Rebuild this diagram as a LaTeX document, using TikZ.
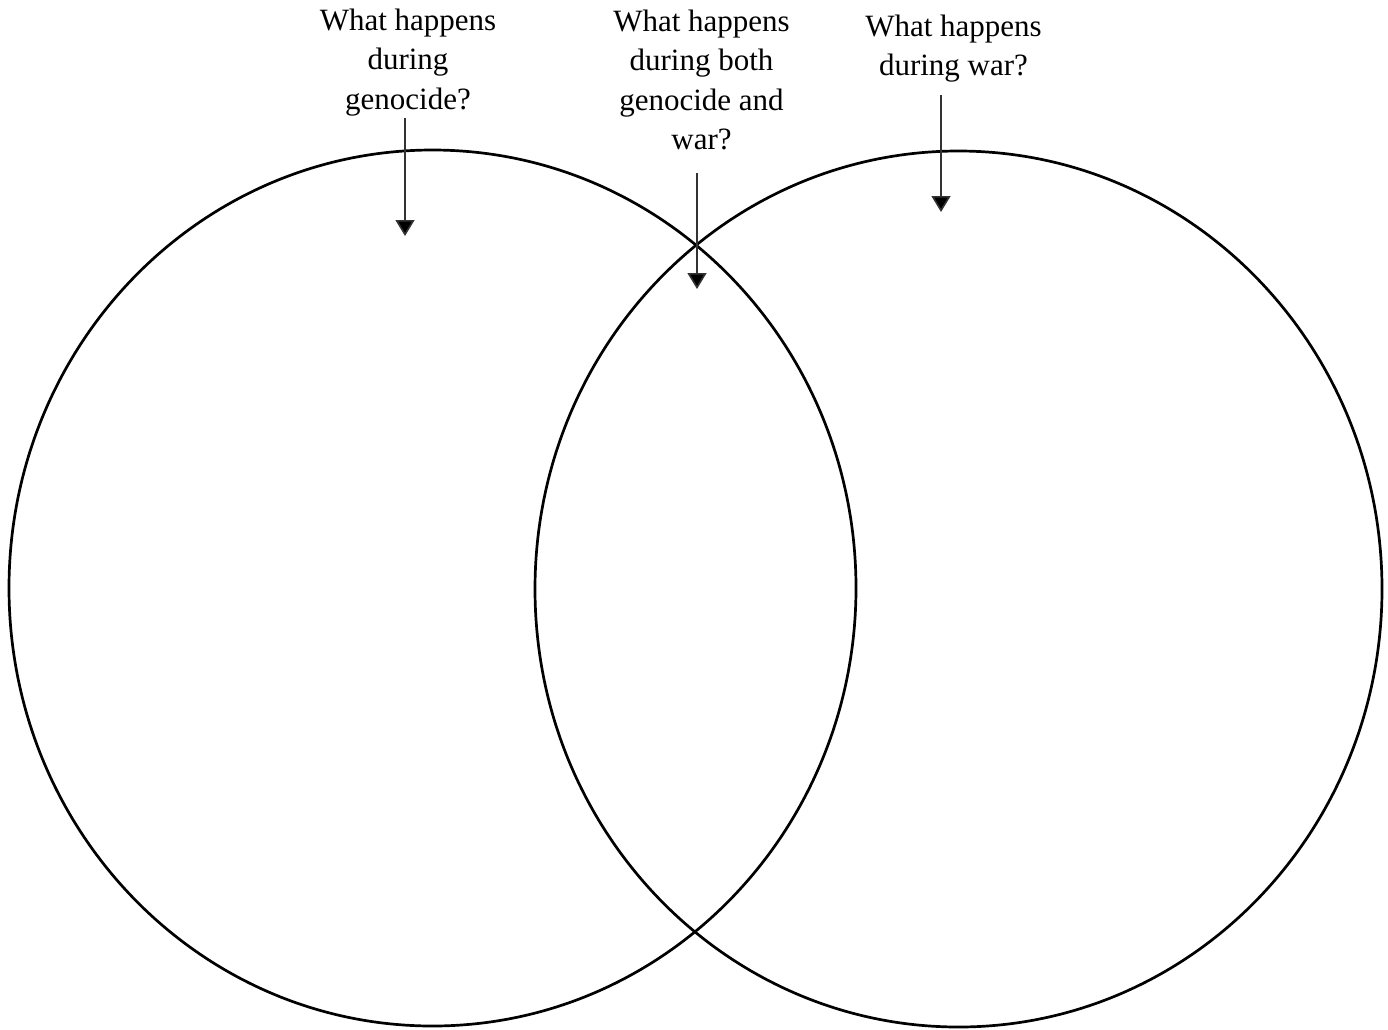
\documentclass[tikz,border=0pt]{standalone}
\usepackage{fontspec}
\setmainfont{Liberation Serif}
\usetikzlibrary{arrows.meta,shapes.geometric}
\begin{document}
\begin{tikzpicture}[x=1pt,y=-1pt,
  label text/.style={font=\fontsize{31}{39.5}\selectfont, align=center, inner sep=0pt, anchor=base},
  venn/.style={draw=black, line width=2.7pt, ellipse, inner sep=0pt, minimum width=847pt, minimum height=876pt},
  pointer/.style={draw=black!80, line width=1.6pt, -{Triangle[width=19pt,length=16pt,fill=black]}}]
\useasboundingbox (0,0) rectangle (1388,1029);
\node[venn] (genocide) at (432.5,588) {};
\node[venn] (war) at (958.5,589) {};
\node[label text] (tgen) at (408,109) {What happens\\during\\genocide?};
\node[label text] (tboth) at (701.5,149.5) {What happens\\during both\\genocide and\\war?};
\node[label text] (twar) at (953.5,75.5) {What happens\\during war?};
\coordinate (gs) at (405,118);
\coordinate (ge) at (405,236);
\coordinate (bs) at (697,173);
\coordinate (be) at (697,289);
\coordinate (ws) at (941,95);
\coordinate (we) at (941,212);
\draw[pointer] (gs) -- (ge);
\draw[pointer] (bs) -- (be);
\draw[pointer] (ws) -- (we);
\end{tikzpicture}
\end{document}
